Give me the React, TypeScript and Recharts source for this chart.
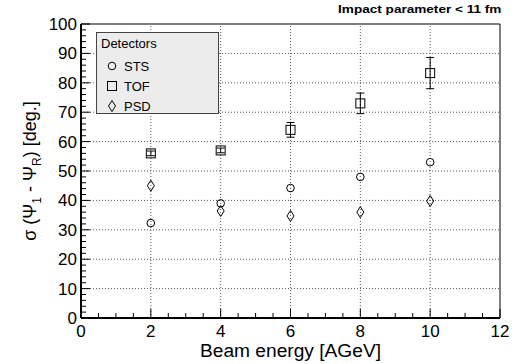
import {
  ScatterChart,
  Scatter,
  XAxis,
  YAxis,
  ReferenceLine,
  ErrorBar,
} from "recharts";

const energies = [2, 4, 6, 8, 10];
const stsSigma = [32.3, 39, 44.2, 48, 53];
const tofSigma = [56, 57, 64, 73, 83.3];
const tofErr = [0.8, 0.8, 2.5, 3.5, 5.3];
const psdSigma = [45, 36.4, 34.7, 36, 39.8];

const xMajor = [0, 2, 4, 6, 8, 10, 12];
const yMajor = [0, 10, 20, 30, 40, 50, 60, 70, 80, 90, 100];
const xTicks = Array.from({ length: 25 }, (_, i) => i * 0.5);
const yTicks = Array.from({ length: 51 }, (_, i) => i * 2);

const FONT = "'Liberation Sans', Arial, Helvetica, sans-serif";

const stsData = energies.map((x, i) => ({ x, y: stsSigma[i] }));
const tofData = energies.map((x, i) => ({ x, y: tofSigma[i], err: tofErr[i] }));
const psdData = energies.map((x, i) => ({ x, y: psdSigma[i] }));

const CircleShape = (p: any) => (
  <circle cx={p.cx} cy={p.cy} r={3.8} fill="none" stroke="#000" strokeWidth={1} />
);
const SquareShape = (p: any) => (
  <rect x={p.cx - 4.5} y={p.cy - 4.5} width={9} height={9} fill="none" stroke="#000" strokeWidth={1} />
);
const DiamondShape = (p: any) => (
  <path
    d={`M${p.cx},${p.cy - 5.5}L${p.cx + 3.5},${p.cy}L${p.cx},${p.cy + 5.5}L${p.cx - 3.5},${p.cy}Z`}
    fill="none"
    stroke="#000"
    strokeWidth={1}
  />
);

const XTick = (p: any) => {
  const v = p.payload.value;
  const major = xMajor.includes(v);
  return (
    <g>
      <line x1={p.x} x2={p.x} y1={p.y} y2={p.y - (major ? 9 : 5)} stroke="#000" strokeWidth={1} />
      {major && (
        <text x={p.x} y={p.y + 19} textAnchor="middle" fontSize={17} fontFamily={FONT} fill="#000">
          {v}
        </text>
      )}
    </g>
  );
};

const YTick = (p: any) => {
  const v = p.payload.value;
  const major = yMajor.includes(v);
  return (
    <g>
      <line x1={p.x} x2={p.x + (major ? 9 : 5)} y1={p.y} y2={p.y} stroke="#000" strokeWidth={1} />
      {major && (
        <text x={p.x - 4} y={p.y + 6} textAnchor="end" fontSize={17} fontFamily={FONT} fill="#000">
          {v}
        </text>
      )}
    </g>
  );
};

const legendItems = [
  { name: "STS", Shape: CircleShape },
  { name: "TOF", Shape: SquareShape },
  { name: "PSD", Shape: DiamondShape },
];

const LegendBox = () => (
  <div
    style={{
      position: "absolute",
      left: 96,
      top: 32,
      width: 123,
      height: 82,
      background: "#ececec",
      border: "1px solid #444",
      boxSizing: "border-box",
      fontFamily: FONT,
      fontSize: 13,
      color: "#000",
      padding: "3px 0 0 4px",
    }}
  >
    <div style={{ height: 20 }}>Detectors</div>
    {legendItems.map(({ name, Shape }) => (
      <div key={name} style={{ display: "flex", alignItems: "center", height: 20 }}>
        <svg width={20} height={14}>
          <Shape cx={11} cy={7} />
        </svg>
        <span style={{ marginLeft: 3 }}>{name}</span>
      </div>
    ))}
  </div>
);

export default function App() {
  return (
    <div style={{ position: "absolute", left: 0, top: 0, width: 514, height: 364, background: "#fff" }}>
      <ScatterChart width={514} height={364} margin={{ top: 24, right: 14, bottom: 0, left: 0 }}>
        {xMajor.slice(1, -1).map((v) => (
          <ReferenceLine key={`gx${v}`} x={v} stroke="#555" strokeDasharray="1 2" />
        ))}
        {yMajor.slice(1, -1).map((v) => (
          <ReferenceLine key={`gy${v}`} y={v} stroke="#555" strokeDasharray="1 2" />
        ))}
        <ReferenceLine y={100} stroke="#000" strokeWidth={1} />
        <ReferenceLine x={12} stroke="#000" strokeWidth={1} />
        <XAxis
          type="number"
          dataKey="x"
          domain={[0, 12]}
          ticks={xTicks}
          interval={0}
          allowDataOverflow
          height={46}
          tickSize={0}
          tickMargin={0}
          tickLine={false}
          axisLine={{ stroke: "#000", strokeWidth: 2 }}
          tick={<XTick />}
          label={(props: any) => {
            const vb = props.viewBox;
            const cx = vb.x + vb.width / 2;
            return (
              <text
                x={cx}
                y={357}
                textAnchor="middle"
                fontSize={18}
                fontFamily={FONT}
                fill="#000"
                textLength={181}
                lengthAdjust="spacingAndGlyphs"
              >
                Beam energy [AGeV]
              </text>
            );
          }}
        />
        <YAxis
          type="number"
          dataKey="y"
          domain={[0, 100]}
          ticks={yTicks}
          interval={0}
          allowDataOverflow
          width={81}
          tickSize={0}
          tickMargin={0}
          tickLine={false}
          axisLine={{ stroke: "#000", strokeWidth: 2 }}
          tick={<YTick />}
          label={(props: any) => {
            const vb = props.viewBox;
            const cx = 36;
            const cy = vb.y + vb.height / 2;
            return (
              <text
                x={cx}
                y={cy}
                transform={`rotate(-90 ${cx} ${cy})`}
                textAnchor="middle"
                fontSize={18}
                fontFamily={FONT}
                fill="#000"
              >
                σ (Ψ
                <tspan fontSize={12} dy={5}>1</tspan>
                <tspan dy={-5}> - Ψ</tspan>
                <tspan fontSize={12} dy={5}>R</tspan>
                <tspan dy={-5}>) [deg.]</tspan>
              </text>
            );
          }}
        />
        <Scatter name="STS" data={stsData} shape={<CircleShape />} isAnimationActive={false} />
        <Scatter name="TOF" data={tofData} shape={<SquareShape />} isAnimationActive={false}>
          <ErrorBar dataKey="err" direction="y" width={4} stroke="#000" strokeWidth={1} />
        </Scatter>
        <Scatter name="PSD" data={psdData} shape={<DiamondShape />} isAnimationActive={false} />
      </ScatterChart>
      <LegendBox />
      <div
        style={{
          position: "absolute",
          right: 13,
          top: 3,
          fontFamily: FONT,
          fontSize: 11.5,
          fontWeight: "bold",
          color: "#000",
          transform: "scaleX(1.18)",
          transformOrigin: "right center",
          whiteSpace: "nowrap",
        }}
      >
        Impact parameter &lt; 11 fm
      </div>
    </div>
  );
}
